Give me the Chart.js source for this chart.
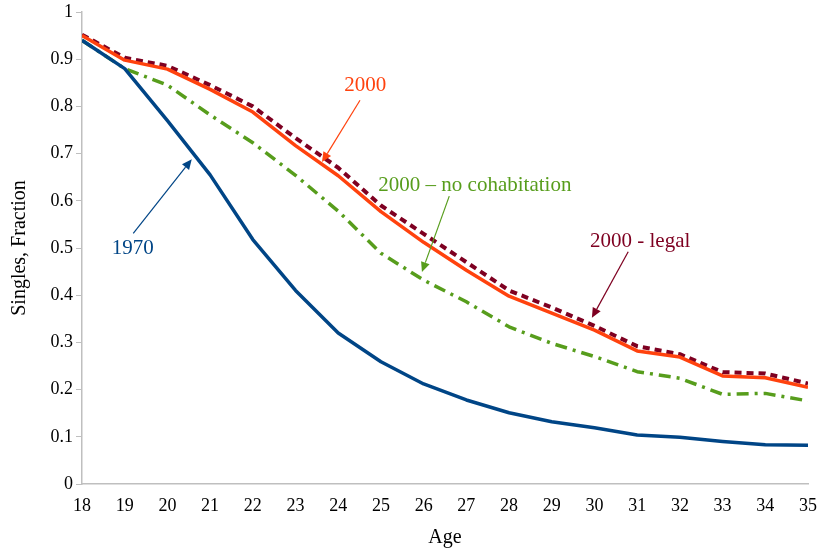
<!DOCTYPE html>
<html>
<head>
<meta charset="utf-8">
<script src="https://cdn.jsdelivr.net/npm/chart.js@4.4.1/dist/chart.umd.min.js"></script>
<style>
  html, body { margin: 0; padding: 0; background: #fff; }
  #wrap { width: 817px; height: 554px; }
</style>
</head>
<body>
<div id="wrap"><canvas id="c"></canvas></div>
<script>
// Ages on the x axis
const ages = [18, 19, 20, 21, 22, 23, 24, 25, 26, 27, 28, 29, 30, 31, 32, 33, 34, 35];

// Fraction single, by age
const singles1970 = [0.94, 0.88, 0.77, 0.655, 0.518, 0.41, 0.32, 0.259, 0.212, 0.178, 0.151, 0.132, 0.119, 0.104, 0.099, 0.09, 0.083, 0.082];
const singlesNoCohab = [0.94, 0.88, 0.845, 0.782, 0.723, 0.654, 0.578, 0.489, 0.432, 0.386, 0.333, 0.298, 0.27, 0.238, 0.224, 0.19, 0.192, 0.176];
const singles2000 = [0.95, 0.898, 0.879, 0.836, 0.788, 0.717, 0.653, 0.577, 0.512, 0.453, 0.398, 0.362, 0.326, 0.282, 0.269, 0.229, 0.225, 0.205];
const singlesLegal = [0.952, 0.903, 0.886, 0.845, 0.8, 0.733, 0.67, 0.59, 0.53, 0.47, 0.41, 0.374, 0.335, 0.292, 0.275, 0.237, 0.234, 0.213];

// Y tick values
const yTicks = [0, 0.1, 0.2, 0.3, 0.4, 0.5, 0.6, 0.7, 0.8, 0.9, 1];

// Text labels with arrows, in data units (age, fraction)
const noteText = ['2000', '2000 \u2013 no cohabitation', '2000 - legal', '1970'];
const noteColor = ['#ff420e', '#579d1c', '#7e0021', '#004586'];
const noteAt = [[24.63, 0.845], [27.2, 0.632], [31.07, 0.513], [19.19, 0.5]];
const arrowFrom = [[24.51, 0.813], [26.6, 0.61], [30.79, 0.492], [19.2, 0.531]];
const arrowTo = [[23.62, 0.682], [25.96, 0.449], [29.94, 0.352], [20.57, 0.688]];

const FONT = '"Liberation Serif", "DejaVu Serif", serif';

function toPts(vals) {
    return vals.map((v, i) => ({ x: ages[i], y: v }));
}

// draws the labels and their arrows
const notesPlugin = {
    id: 'notes',
    afterDatasetsDraw(chart) {
        const ctx = chart.ctx;
        const xs = chart.scales.x, ys = chart.scales.y;
        ctx.save();
        for (let i = 0; i < noteText.length; i++) {
            ctx.fillStyle = noteColor[i];
            ctx.strokeStyle = noteColor[i];
            ctx.font = '21px ' + FONT;
            ctx.textAlign = 'center';
            ctx.textBaseline = 'middle';
            ctx.fillText(noteText[i], xs.getPixelForValue(noteAt[i][0]), ys.getPixelForValue(noteAt[i][1]));

            const x1 = xs.getPixelForValue(arrowFrom[i][0]), y1 = ys.getPixelForValue(arrowFrom[i][1]);
            const x2 = xs.getPixelForValue(arrowTo[i][0]), y2 = ys.getPixelForValue(arrowTo[i][1]);
            const ang = Math.atan2(y2 - y1, x2 - x1);
            const head = 10, w = 4.5;
            const bx = x2 - head * Math.cos(ang), by = y2 - head * Math.sin(ang);
            ctx.lineWidth = 1.2;
            ctx.beginPath();
            ctx.moveTo(x1, y1);
            ctx.lineTo(bx, by);
            ctx.stroke();
            ctx.beginPath();
            ctx.moveTo(x2, y2);
            ctx.lineTo(bx + w * Math.sin(ang), by - w * Math.cos(ang));
            ctx.lineTo(bx - w * Math.sin(ang), by + w * Math.cos(ang));
            ctx.closePath();
            ctx.fill();
        }
        ctx.restore();
    }
};

new Chart(document.getElementById('c'), {
    type: 'line',
    data: {
        datasets: [
            { label: '1970', data: toPts(singles1970), borderColor: '#004586', borderWidth: 3.5 },
            { label: '2000 - no cohabitation', data: toPts(singlesNoCohab), borderColor: '#579d1c', borderWidth: 3.5, borderDash: [12, 6, 3, 6] },
            { label: '2000', data: toPts(singles2000), borderColor: '#ff420e', borderWidth: 3.5 },
            { label: '2000 - legal', data: toPts(singlesLegal), borderColor: '#7e0021', borderWidth: 4, borderDash: [7, 5] }
        ]
    },
    options: {
        responsive: true,
        maintainAspectRatio: false,
        animation: false,
        elements: {
            point: { radius: 0 },
            line: { tension: 0, fill: false, borderCapStyle: 'butt', borderJoinStyle: 'round' }
        },
        layout: { padding: { left: 8, right: 9, top: 12, bottom: 0 } },
        plugins: {
            legend: { display: false },
            tooltip: { enabled: false }
        },
        scales: {
            x: {
                type: 'linear',
                min: 18,
                max: 35,
                afterBuildTicks: s => { s.ticks = ages.map(a => ({ value: a })); },
                afterFit: s => { s.height = 70; s.paddingLeft = 0; s.paddingRight = 0; },
                grid: { display: false, drawOnChartArea: false, drawTicks: true, tickLength: 6, tickColor: '#bfbfbf' },
                border: { color: '#bfbfbf', width: 1.5 },
                ticks: { font: { family: FONT, size: 18 }, color: '#000', maxRotation: 0, autoSkip: false, padding: 5 },
                title: { display: true, text: 'Age', font: { family: FONT, size: 20 }, color: '#000', padding: { top: 7 } }
            },
            y: {
                min: 0,
                max: 1,
                afterBuildTicks: s => { s.ticks = yTicks.map(v => ({ value: v })); },
                afterFit: s => { s.width = 74; s.paddingTop = 0; s.paddingBottom = 0; },
                grid: { display: true, drawOnChartArea: false, drawTicks: true, tickLength: 6, tickColor: '#bfbfbf' },
                border: { color: '#bfbfbf', width: 1.5 },
                ticks: { font: { family: FONT, size: 18 }, color: '#000', padding: 3, callback: v => String(Number(v.toFixed(1))) },
                title: { display: true, text: 'Singles, Fraction', font: { family: FONT, size: 20 }, color: '#000', padding: { top: 0, bottom: 2 } }
            }
        }
    },
    plugins: [notesPlugin]
});
</script>
</body>
</html>
